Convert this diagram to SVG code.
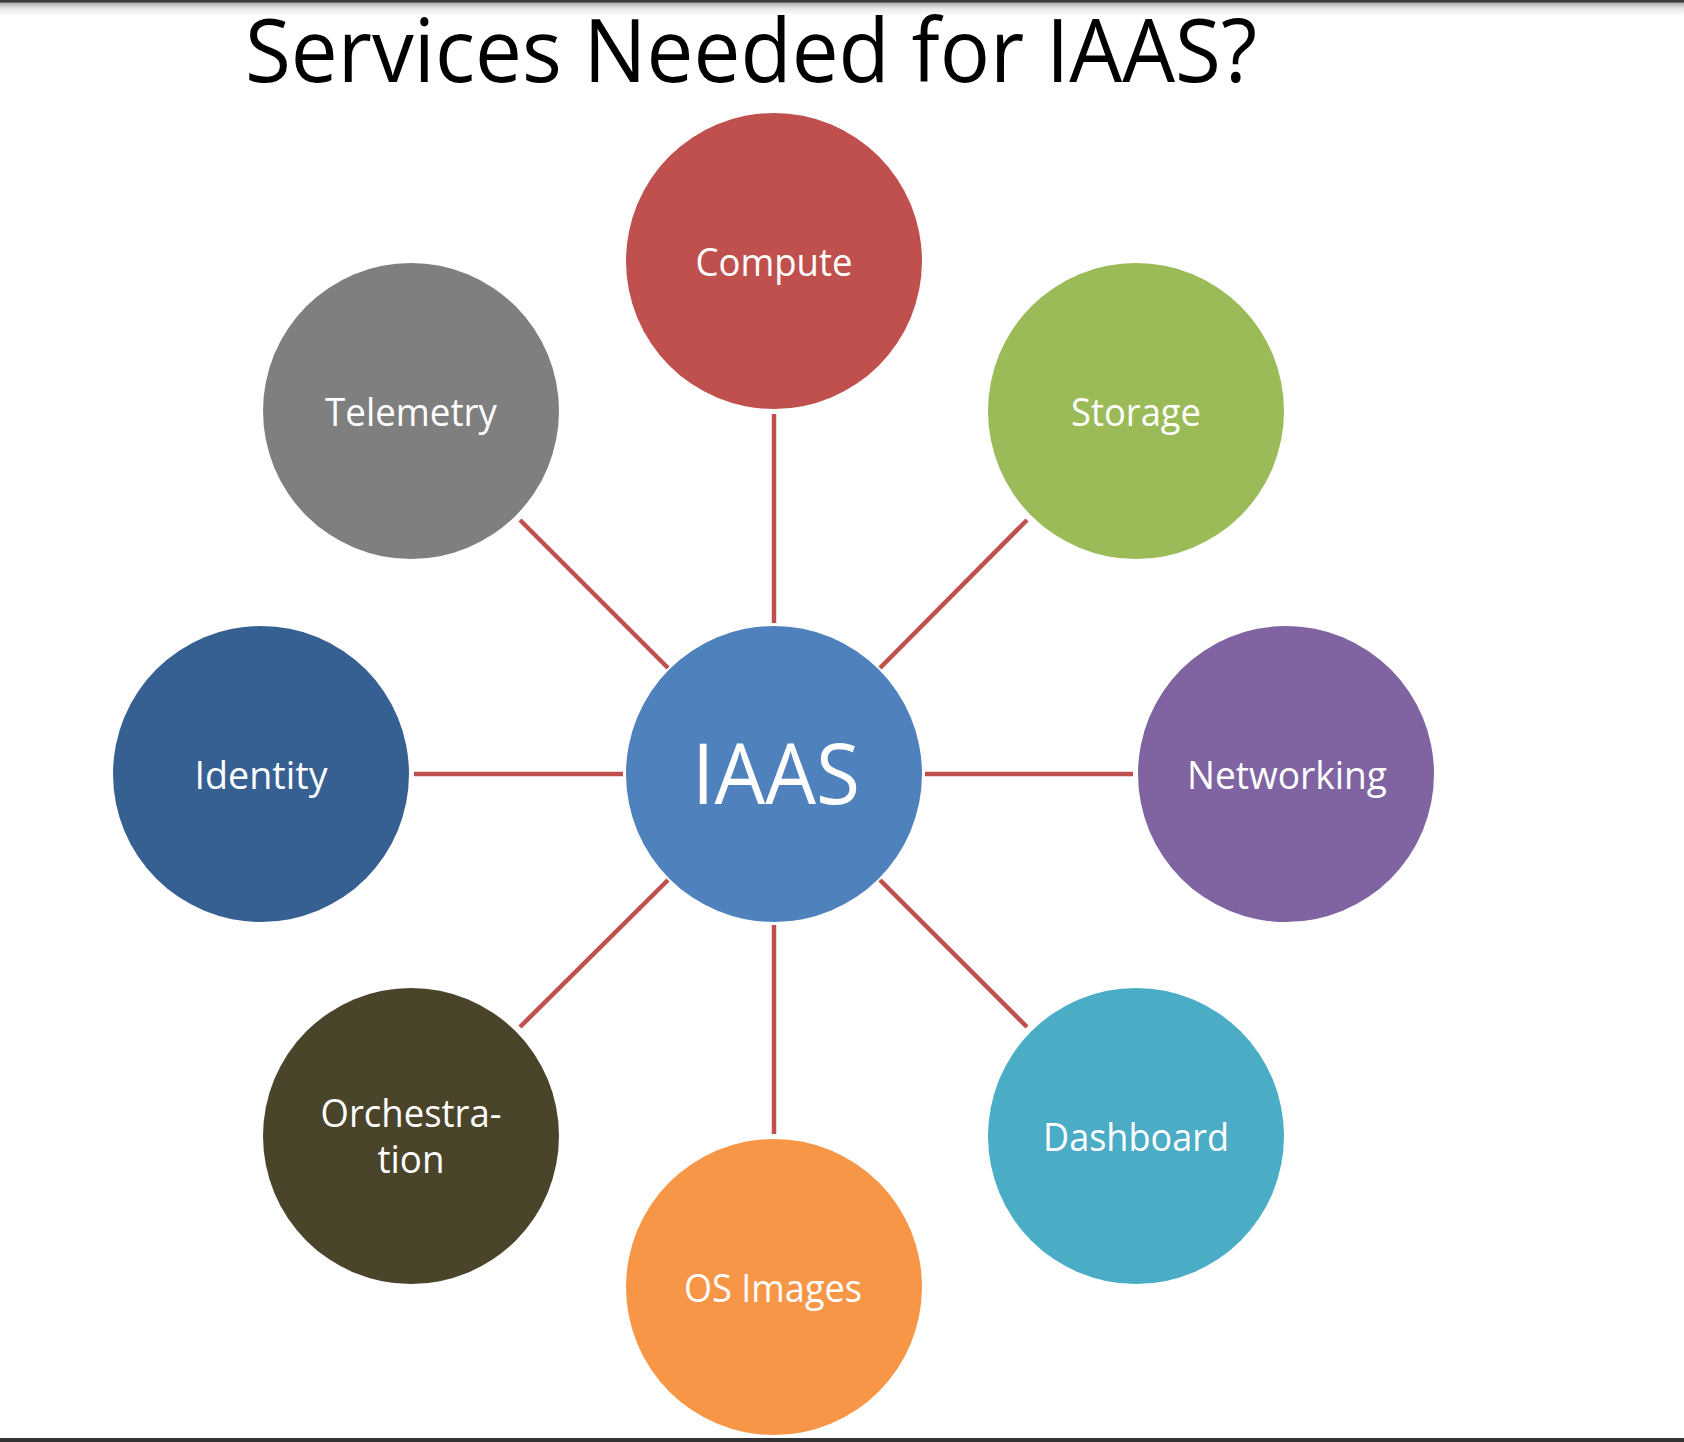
<svg xmlns="http://www.w3.org/2000/svg" width="1684" height="1442" viewBox="0 0 1684 1442">
<defs>
<linearGradient id="topbar" x1="0" y1="0" x2="0" y2="1">
<stop offset="0" stop-color="#3a3a3a"/>
<stop offset="0.12" stop-color="#3a3a3a"/>
<stop offset="0.2" stop-color="#b0b0b0"/>
<stop offset="0.5" stop-color="#e6e6e6"/>
<stop offset="1" stop-color="#ffffff"/>
</linearGradient>
</defs>
<style>
.conn line{stroke:#C0504D;stroke-width:4.5;}
.lbl{font-family:"Open Sans","Noto Sans","DejaVu Sans",sans-serif;fill:#ffffff;font-size:38px;text-anchor:middle;}
.title{font-family:"Open Sans","Noto Sans","DejaVu Sans",sans-serif;fill:#000000;font-size:88px;}
</style>
<rect x="0" y="0" width="1684" height="1442" fill="#ffffff"/>
<rect x="0" y="0" width="1684" height="16" fill="url(#topbar)"/>
<rect x="0" y="1438" width="1684" height="4" fill="#333333"/>
<text class="title" x="245" y="82" textLength="1012" lengthAdjust="spacingAndGlyphs">Services Needed for IAAS?</text>
<g class="conn" id="connectors">
<line x1="774" y1="414" x2="774" y2="623"/>
<line x1="774" y1="925" x2="774" y2="1134"/>
<line x1="414" y1="774" x2="623" y2="774"/>
<line x1="925" y1="774" x2="1133" y2="774"/>
<line x1="520" y1="520" x2="668" y2="668"/>
<line x1="1027" y1="520" x2="880" y2="668"/>
<line x1="520" y1="1027" x2="668" y2="880"/>
<line x1="1027" y1="1027" x2="880" y2="880"/>
</g>
<g id="iaas">
<circle cx="774" cy="774" r="148" fill="#4F81BD"/>
<text class="lbl" x="776" y="804" style="font-size:84px" textLength="168" lengthAdjust="spacingAndGlyphs">IAAS</text>
</g>
<g id="compute">
<circle cx="774" cy="261" r="148" fill="#C0504D"/>
<text class="lbl" x="774" y="276" textLength="157" lengthAdjust="spacingAndGlyphs">Compute</text>
</g>
<g id="telemetry">
<circle cx="411" cy="411" r="148" fill="#7F7F7F"/>
<text class="lbl" x="411" y="426" textLength="172" lengthAdjust="spacingAndGlyphs">Telemetry</text>
</g>
<g id="storage">
<circle cx="1136" cy="411" r="148" fill="#9BBB59"/>
<text class="lbl" x="1136" y="426" textLength="130" lengthAdjust="spacingAndGlyphs">Storage</text>
</g>
<g id="identity">
<circle cx="261" cy="774" r="148" fill="#366092"/>
<text class="lbl" x="261" y="789" textLength="133" lengthAdjust="spacingAndGlyphs">Identity</text>
</g>
<g id="networking">
<circle cx="1286" cy="774" r="148" fill="#8064A2"/>
<text class="lbl" x="1287" y="789" textLength="200" lengthAdjust="spacingAndGlyphs">Networking</text>
</g>
<g id="orchestration">
<circle cx="411" cy="1136" r="148" fill="#4A452A"/>
<text class="lbl" x="411" y="1127" textLength="181" lengthAdjust="spacingAndGlyphs">Orchestra-</text>
<text class="lbl" x="411" y="1173" textLength="67" lengthAdjust="spacingAndGlyphs">tion</text>
</g>
<g id="dashboard">
<circle cx="1136" cy="1136" r="148" fill="#4BACC6"/>
<text class="lbl" x="1136" y="1151" textLength="186" lengthAdjust="spacingAndGlyphs">Dashboard</text>
</g>
<g id="osimages">
<circle cx="774" cy="1287" r="148" fill="#F79646"/>
<text class="lbl" x="773" y="1302" textLength="178" lengthAdjust="spacingAndGlyphs">OS Images</text>
</g>
</svg>
